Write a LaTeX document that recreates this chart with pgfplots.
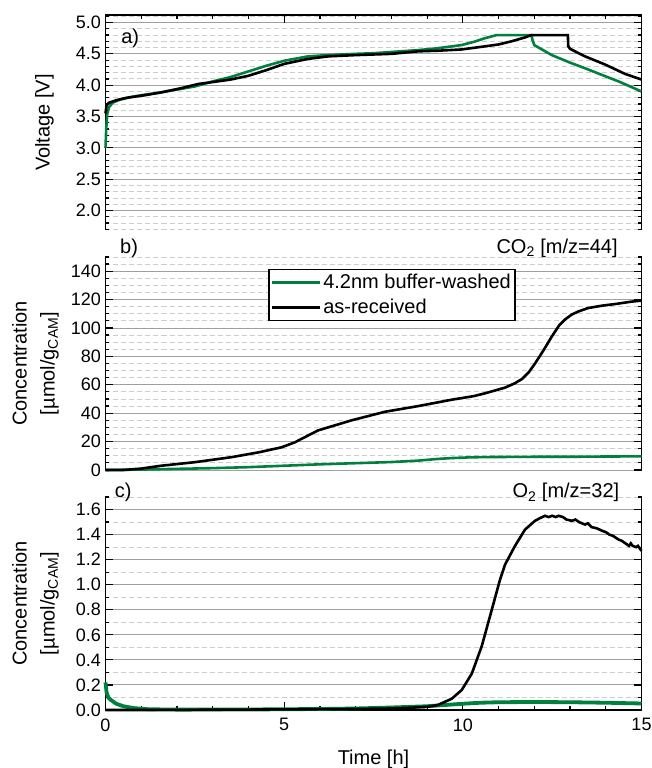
\documentclass[border=0pt]{standalone}
\usepackage{fontspec}
\setmainfont{Liberation Sans}
\usepackage{pgfplots}
\pgfplotsset{compat=1.18}
\definecolor{mygreen}{RGB}{0,128,60}
\definecolor{majgrid}{RGB}{160,160,160}
\definecolor{mingrid}{RGB}{205,205,205}
\tikzset{txt/.style={font=\fontsize{20}{24}\selectfont}}
\pgfplotsset{
 panel/.style={
  width=536pt, scale only axis, clip=false,
  xmin=0, xmax=15,
  xtick={0,5,10,15}, minor x tick num=4,
  axis y line*=box,
  tick align=inside,
  major tick length=8pt, minor tick length=4pt,
  tick style={black, line width=1.2pt},
  axis line style={line width=1.8pt},
  ymajorgrids, yminorgrids,
  major grid style={majgrid, line width=0.9pt},
  minor grid style={mingrid, line width=0.9pt, dash pattern=on 5pt off 3pt},
  tick label style={font=\fontsize{18}{21}\selectfont},
  yticklabel style={xshift=-1pt},
  xticklabel style={yshift=-5pt},
  label style={font=\fontsize{20}{28}\selectfont},
  /pgf/number format/assume math mode=true,
 },
}
\begin{document}
\begin{tikzpicture}
\path[use as bounding box] (-105.5pt,-58pt) rectangle (546.5pt,710pt);
% ---------- panel c ----------
\begin{axis}[panel, at={(0pt,0pt)}, height=213pt,
  axis x line*=bottom, tick align=inside,
  ymin=0, ymax=1.7, ytick={0,0.2,...,1.8}, minor y tick num=1,
  yticklabel style={/pgf/number format/.cd, fixed, fixed zerofill, precision=1},
  xlabel={Time [h]},
  xlabel style={at={(axis description cs:0.5,0)}, yshift=-49pt, anchor=center},
  ylabel={Concentration\\{[}µmol/g\textsubscript{CAM}{]}},
  ylabel style={at={(axis description cs:-0.1306,0.5)}, anchor=center, align=center},
]
\addplot[mygreen, line width=3.8pt] coordinates {
(0,0.22)(0.03,0.14)(0.08,0.10)(0.15,0.08)(0.3,0.05)(0.5,0.03)(0.8,0.015)(1.2,0.006)(2,0.003)(4,0.004)(6,0.008)(7,0.012)(8,0.02)(9,0.03)(9.5,0.04)(10,0.05)(10.5,0.058)(11,0.062)(12,0.064)(13,0.062)(14,0.058)(15,0.052)};
\addplot[black, line width=2.6pt] coordinates {
(0,0.0)(1,0.0)(3,0.002)(5,0.005)(7,0.008)(8,0.012)(8.5,0.018)(9,0.025)(9.3,0.04)(9.69,0.09)(9.97,0.16)(10.25,0.29)(10.53,0.51)(10.81,0.80)(11.04,1.04)(11.18,1.16)(11.46,1.31)(11.74,1.44)(12.02,1.51)(12.15,1.53)(12.3,1.55)(12.4,1.54)(12.5,1.55)(12.6,1.54)(12.68,1.55)(12.8,1.54)(12.9,1.52)(13.05,1.51)(13.15,1.52)(13.25,1.50)(13.42,1.48)(13.5,1.49)(13.6,1.46)(13.75,1.45)(13.9,1.43)(14.0,1.42)(14.1,1.40)(14.2,1.39)(14.36,1.36)(14.45,1.35)(14.55,1.33)(14.65,1.31)(14.7,1.33)(14.75,1.31)(14.85,1.30)(14.9,1.31)(15,1.27)};
\node[txt, anchor=center] at (rel axis cs:0.033,1.02) {c)};
\node[txt, anchor=east] at (rel axis cs:0.965,1.02) {O\textsubscript{2} [m/z=32]};
\end{axis}
% ---------- panel b ----------
\begin{axis}[panel, at={(0pt,240pt)}, height=213pt,
  axis x line=none,
  ymin=0, ymax=150, ytick={0,20,...,160}, minor y tick num=3,
  ylabel={Concentration\\{[}µmol/g\textsubscript{CAM}{]}},
  ylabel style={at={(axis description cs:-0.1306,0.5)}, anchor=center, align=center},
  legend style={at={(rel axis cs:0.303,0.945)}, anchor=north west, draw=black, line width=1.6pt, fill=white,
    font=\fontsize{20}{24}\selectfont, inner xsep=2pt, inner ysep=3pt, nodes={inner sep=2pt}, row sep=5pt},
  legend cell align=left,
  legend image code/.code={\draw[#1] (0pt,0pt) -- (48pt,0pt);},
]
\addplot[mygreen, line width=2.6pt] coordinates {
(0,0)(1,0.3)(2,0.8)(3,1.3)(4,2)(5,3)(6,4)(7,4.8)(8,5.6)(8.75,6.6)(9.3,7.8)(9.69,8.4)(10.2,8.9)(10.62,9.1)(12,9.3)(13,9.3)(14,9.5)(15,9.6)};
\addlegendentry{4.2nm buffer-washed}
\addplot[black, line width=2.6pt] coordinates {
(0,0)(0.5,0)(1,1)(1.56,3)(2.5,5.5)(3.52,9)(4.3,12.5)(4.93,16)(5.3,19.5)(5.67,24.3)(5.95,27.9)(6.23,30)(6.89,35)(7.82,41)(8.75,45)(9.69,49.5)(10.3,52)(10.62,54)(11.18,58)(11.45,61)(11.65,64)(11.85,69)(12.02,75)(12.25,84)(12.49,94)(12.7,102)(12.86,106)(13.05,109.5)(13.24,111.7)(13.5,114)(13.89,115.7)(14.3,117)(14.7,118.5)(15,119.3)};
\addlegendentry{as-received}
\node[txt, anchor=center] at (rel axis cs:0.044,1.04) {b)};
\node[txt, anchor=east] at (rel axis cs:0.962,1.04) {CO\textsubscript{2} [m/z=44]};
\end{axis}
% ---------- panel a ----------
\begin{axis}[panel, at={(0pt,480pt)}, height=215pt,
  axis x line*=top, tick align=inside, xticklabels={},
  ymin=1.69, ymax=5.12, ytick={1.5,2,...,5.5}, minor y tick num=4,
  yticklabel style={/pgf/number format/.cd, fixed, fixed zerofill, precision=1},
  ylabel={Voltage [V]},
  ylabel style={at={(axis description cs:-0.1138,0.5)}, anchor=center},
]
\addplot[mygreen, line width=2.6pt] coordinates {
(0,3.0)(0.02,3.3)(0.05,3.55)(0.1,3.65)(0.2,3.72)(0.4,3.77)(0.7,3.81)(1,3.84)(1.5,3.88)(2,3.93)(2.5,3.98)(3,4.06)(3.5,4.13)(4,4.22)(4.5,4.31)(5,4.39)(5.67,4.46)(6.2,4.48)(7,4.50)(7.5,4.51)(8,4.53)(8.75,4.56)(9.3,4.59)(9.96,4.64)(10.3,4.69)(10.62,4.75)(10.95,4.80)(11.92,4.80)(11.95,4.72)(12.0,4.64)(12.49,4.48)(13,4.36)(13.42,4.27)(14,4.14)(14.36,4.06)(15,3.90)};
\addplot[black, line width=2.6pt] coordinates {
(0,3.55)(0.03,3.68)(0.1,3.72)(0.3,3.76)(0.6,3.80)(1.1,3.84)(1.6,3.89)(2.1,3.95)(2.6,4.02)(3,4.05)(3.5,4.09)(4,4.15)(4.5,4.24)(5,4.34)(5.67,4.42)(6.23,4.46)(7,4.48)(7.5,4.49)(8,4.50)(8.75,4.54)(9.3,4.55)(9.96,4.57)(10.62,4.62)(11,4.65)(11.36,4.70)(11.73,4.76)(11.92,4.80)(12.94,4.80)(12.95,4.62)(13.0,4.58)(13.42,4.46)(13.98,4.33)(14.54,4.18)(15,4.09)};
\node[txt, anchor=center] at (rel axis cs:0.046,0.89) {a)};
\end{axis}
\end{tikzpicture}
\end{document}
